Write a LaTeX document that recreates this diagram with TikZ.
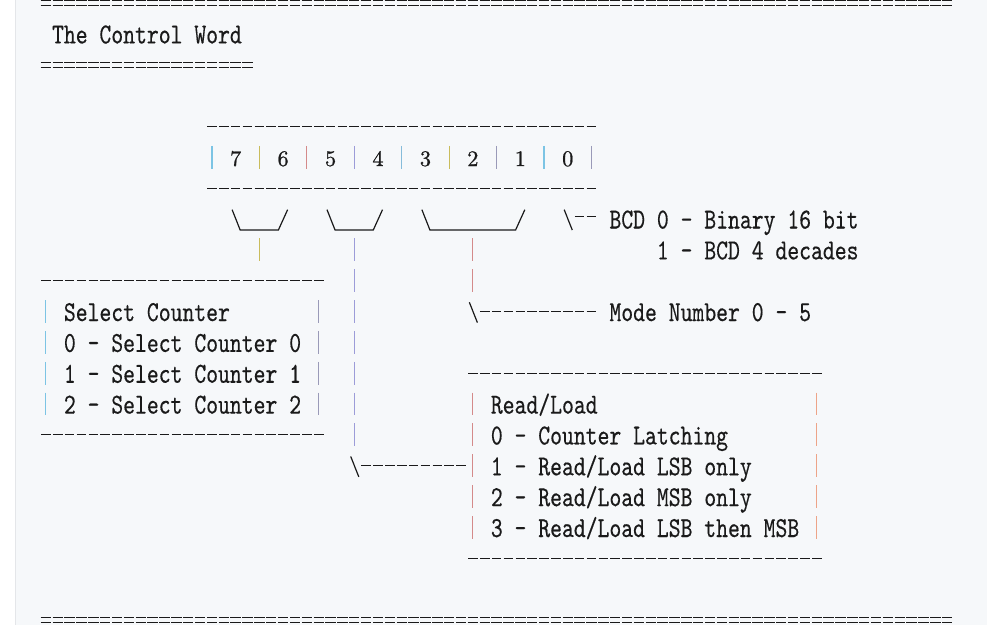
\documentclass[tikz,border=0pt]{standalone}
\usepackage{fontspec}
\newfontfamily\codefont{lmmono10-regular.otf}[FakeStretch=0.779, FakeBold=0.35]
\newfontfamily\digitfont{lmroman10-regular.otf}[FakeBold=0.9]
\usepackage{tikz}
\usetikzlibrary{positioning}
\definecolor{CodeBg}{HTML}{F6F8FA}
\definecolor{CodeEdge}{HTML}{E4E6E9}
\definecolor{Ink}{HTML}{1A1A1A}
\definecolor{BarCyan}{HTML}{7CC4E4}
\definecolor{BarSky}{HTML}{86BCDA}
\definecolor{BarYellow}{HTML}{C9BC5C}
\definecolor{BarRed}{HTML}{D48A8A}
\definecolor{BarLav}{HTML}{9C9CD8}
\definecolor{BarSlate}{HTML}{9A9AB8}
\definecolor{BarSalmon}{HTML}{EDA488}
\begin{document}
\begin{tikzpicture}[x=11.86pt, y=-30.85pt,
    mono/.style={font=\codefont\fontsize{29}{34}\selectfont, text=Ink, anchor=base west, inner sep=0pt},
    digit/.style={font=\digitfont\fontsize{22.2}{26}\selectfont, text=Ink, anchor=base, inner sep=0pt},
    eqline/.style={Ink, line width=0.9pt, dash pattern=on 10.4pt off 1.46pt, dash phase=11.13pt},
    dashline/.style={Ink, line width=1pt, dash pattern=on 9.6pt off 2.26pt, dash phase=10.73pt},
    barcol/.style={line width=1.1pt, dash pattern=on 22.8pt off 8.05pt},
    glyph/.style={Ink, line width=1.2pt}]
    % code block background
    \useasboundingbox (-3.373,-0.0972) rectangle (79.85,20.162);
    \fill[white] (-3.373,-0.0972) rectangle (79.85,20.162);
    \fill[CodeBg] (-2.024,-0.0972) rectangle (79.85,20.162);
    \draw[CodeEdge, line width=1pt] (-2.024,-0.0972) -- (-2.024,20.162);

    % heading
    \draw[eqline] (0,-0.08) -- (77,-0.08);
    \draw[eqline] (0,0.08) -- (77,0.08);
    \node[mono] (title) at (1,1.31) {The Control Word};
    \draw[eqline] (0,1.92) -- (18,1.92);
    \draw[eqline] (0,2.08) -- (18,2.08);

    % the eight bits
    \draw[dashline] (14,4) -- (47,4);
    \draw[dashline] (14,6) -- (47,6);
    \foreach \c/\clr in {14/BarCyan,18/BarYellow,22/BarRed,26/BarLav,30/BarSky,34/BarYellow,38/BarSlate,42/BarCyan,46/BarSlate}
        \draw[\clr, line width=1.1pt] (\c+0.5,4.63) -- (\c+0.5,5.37);
    \node[digit] (b7) at (16.5,5.284) {7};
    \node[digit] (b6) at (20.5,5.284) {6};
    \node[digit] (b5) at (24.5,5.284) {5};
    \node[digit] (b4) at (28.5,5.284) {4};
    \node[digit] (b3) at (32.5,5.284) {3};
    \node[digit] (b2) at (36.5,5.284) {2};
    \node[digit] (b1) at (40.5,5.284) {1};
    \node[digit] (b0) at (44.5,5.284) {0};

    % brackets under the bit fields
    \draw[glyph] (16.2,6.7) -- (16.88,7.36) -- (20.1,7.36) -- (20.88,6.7);
    \draw[glyph] (24.2,6.7) -- (24.88,7.36) -- (28.1,7.36) -- (28.88,6.7);
    \draw[glyph] (32.2,6.7) -- (32.88,7.36) -- (40.1,7.36) -- (40.88,6.7);
    \draw[glyph] (44.2,6.7) -- (44.88,7.36);
    \draw[dashline] (45,6.93) -- (47,6.93);
    \node[mono] (bcd0) at (48,7.31) {BCD 0 - Binary 16 bit};
    \node[mono] (bcd1) at (52,8.31) {1 - BCD 4 decades};

    % vertical leads
    \draw[barcol, BarYellow] (18.5,7.63) -- (18.5,8.37);
    \draw[barcol, BarLav] (26.5,7.63) -- (26.5,14.37);
    \draw[barcol, BarRed] (36.5,7.63) -- (36.5,9.37);

    % select counter box
    \draw[dashline] (0,9) -- (24,9);
    \draw[dashline] (0,14) -- (24,14);
    \draw[barcol, BarCyan] (0.5,9.63) -- (0.5,13.37);
    \draw[barcol, BarSlate] (23.5,9.63) -- (23.5,13.37);
    \node[mono] (sel) at (2,10.31) {Select Counter};
    \node[mono] (sel0) at (2,11.31) {0 - Select Counter 0};
    \node[mono] (sel1) at (2,12.31) {1 - Select Counter 1};
    \node[mono] (sel2) at (2,13.31) {2 - Select Counter 2};

    % mode number
    \draw[glyph] (36.2,9.7) -- (36.88,10.36);
    \draw[dashline] (37,10) -- (47,10);
    \node[mono] (mode) at (48,10.31) {Mode Number 0 - 5};

    % read/load box
    \draw[dashline] (36,12) -- (66,12);
    \draw[dashline] (36,18) -- (66,18);
    \draw[barcol, BarRed] (36.5,12.63) -- (36.5,17.37);
    \draw[barcol, BarSalmon] (65.5,12.63) -- (65.5,17.37);
    \draw[glyph] (26.2,14.7) -- (26.88,15.36);
    \draw[dashline] (27,15) -- (36,15);
    \node[mono] (rl) at (38,13.31) {Read/Load};
    \node[mono] (rl0) at (38,14.31) {0 - Counter Latching};
    \node[mono] (rl1) at (38,15.31) {1 - Read/Load LSB only};
    \node[mono] (rl2) at (38,16.31) {2 - Read/Load MSB only};
    \node[mono] (rl3) at (38,17.31) {3 - Read/Load LSB then MSB};

    \draw[eqline] (0,19.92) -- (77,19.92);
    \draw[eqline] (0,20.08) -- (77,20.08);
\end{tikzpicture}
\end{document}
